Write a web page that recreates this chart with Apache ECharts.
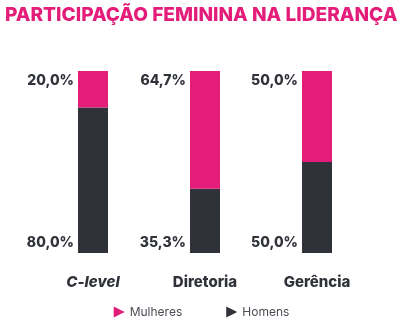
<!DOCTYPE html>
<html>
<head>
<meta charset="utf-8">
<script src="https://cdn.jsdelivr.net/npm/echarts@6/dist/echarts.min.js"></script>
<style>
  html, body { margin: 0; padding: 0; background: #ffffff; }
  #chart { width: 403px; height: 323px; }
</style>
</head>
<body>
<div id="chart"></div>
<script>
// Leadership participation by level (percent)
const categories = ['C-level', 'Diretoria', 'Gerência'];
const mulheres = [20.0, 64.7, 50.0];
const homens = [80.0, 35.3, 50.0];
const seriesNames = ['Mulheres', 'Homens'];

const PINK = '#e31d79';
const DARK = '#2f3239';
const TEXT = '#2f3239';
const FONT = 'Inter, "Noto Sans", sans-serif';

const fmt = p => p.value.toFixed(1).replace('.', ',') + '%';

const chart = echarts.init(document.getElementById('chart'), null, { renderer: 'canvas' });

chart.setOption({
  animation: false,
  title: {
    text: 'PARTICIPAÇÃO FEMININA NA LIDERANÇA',
    left: 0,
    top: 1,
    textStyle: { color: PINK, fontFamily: FONT, fontWeight: 800, fontSize: 19.1 }
  },
  grid: { left: 37, right: 30, top: 71, bottom: 70 },
  legend: {
    bottom: 0,
    left: 'center',
    itemGap: 44,
    itemWidth: 11,
    itemHeight: 11,
    icon: 'path://M0,0 L10,5 L0,10 Z',
    textStyle: { color: '#4a4d55', fontFamily: FONT, fontSize: 12 },
    data: seriesNames
  },
  xAxis: {
    type: 'category',
    data: categories.map((c, i) => i === 0
      ? { value: c, textStyle: { fontStyle: 'italic' } }
      : c),
    axisLine: { show: false },
    axisTick: { show: false },
    axisLabel: {
      color: TEXT,
      fontFamily: FONT,
      fontWeight: 800,
      fontSize: 15,
      margin: 22
    }
  },
  yAxis: { type: 'value', min: 0, max: 100, show: false },
  series: [
    {
      name: 'Homens',
      type: 'bar',
      stack: 'total',
      barWidth: 30,
      data: homens,
      itemStyle: { color: DARK },
      label: {
        show: true,
        position: 'insideBottomLeft',
        distance: 0,
        align: 'right',
        verticalAlign: 'middle',
        offset: [-4, -10],
        formatter: fmt,
        color: TEXT,
        fontFamily: FONT,
        fontWeight: 800,
        fontSize: 14
      }
    },
    {
      name: 'Mulheres',
      type: 'bar',
      stack: 'total',
      barWidth: 30,
      data: mulheres,
      itemStyle: { color: PINK },
      label: {
        show: true,
        position: [-4, 10],
        align: 'right',
        verticalAlign: 'middle',
        formatter: fmt,
        color: TEXT,
        fontFamily: FONT,
        fontWeight: 800,
        fontSize: 14
      }
    }
  ]
});
</script>
</body>
</html>
